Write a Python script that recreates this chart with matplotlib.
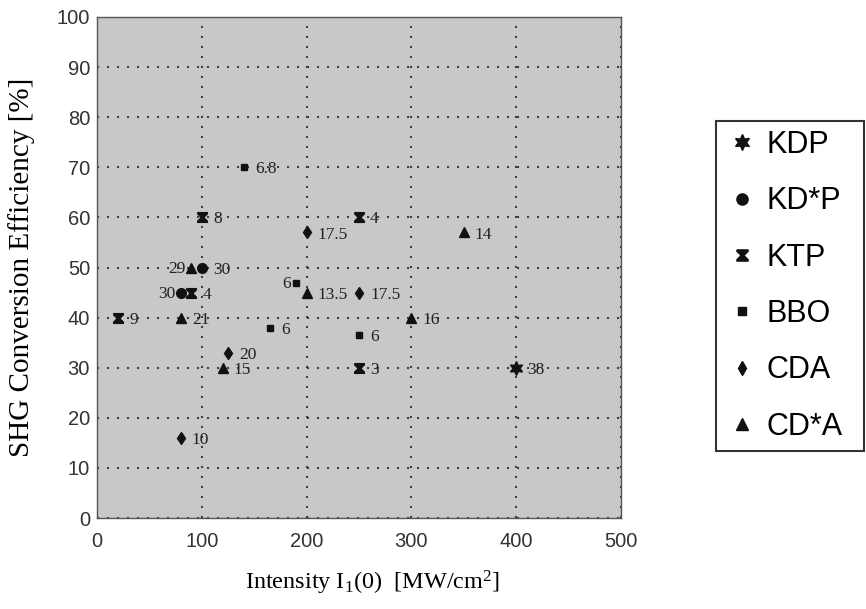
import matplotlib
matplotlib.use("Agg")
import matplotlib.pyplot as plt
from matplotlib.path import Path

# crystal data: intensity [MW/cm2], SHG efficiency [%], annotation
kdp_x = [400]
kdp_y = [30]
kdp_lbl = ["38"]

kdsp_x = [100, 80]
kdsp_y = [50, 45]
kdsp_lbl = ["30", "30"]

ktp_x = [100, 250, 90, 20, 250]
ktp_y = [60, 60, 45, 40, 30]
ktp_lbl = ["8", "4", "4", "9", "3"]

bbo_x = [140, 190, 165, 250]
bbo_y = [70, 47, 38, 36.5]
bbo_lbl = ["6.8", "6", "6", "6"]

cda_x = [200, 250, 125, 80]
cda_y = [57, 45, 33, 16]
cda_lbl = ["17.5", "17.5", "20", "10"]

cdsa_x = [350, 90, 200, 80, 300, 120]
cdsa_y = [57, 50, 45, 40, 40, 30]
cdsa_lbl = ["14", "29", "13.5", "21", "16", "15"]

names = ["KDP", "KD*P", "KTP", "BBO", "CDA", "CD*A"]

# labels drawn on the left side of the marker (series, index)
left_side = {("KD*P", 1), ("CD*A", 1), ("BBO", 1)}

# hourglass marker for KTP
hourglass = Path([(-1, 1), (1, 1), (1, 0.75), (0.25, 0), (1, -0.75), (1, -1),
                  (-1, -1), (-1, -0.75), (-0.25, 0), (-1, 0.75), (-1, 1)])

styles = {
    "KDP": dict(marker=(6, 1, 0), ms=10),
    "KD*P": dict(marker="o", ms=7),
    "KTP": dict(marker=hourglass, ms=7),
    "BBO": dict(marker="s", ms=5),
    "CDA": dict(marker="d", ms=6.5),
    "CD*A": dict(marker="^", ms=7),
}

series = {
    "KDP": (kdp_x, kdp_y, kdp_lbl),
    "KD*P": (kdsp_x, kdsp_y, kdsp_lbl),
    "KTP": (ktp_x, ktp_y, ktp_lbl),
    "BBO": (bbo_x, bbo_y, bbo_lbl),
    "CDA": (cda_x, cda_y, cda_lbl),
    "CD*A": (cdsa_x, cdsa_y, cdsa_lbl),
}

plt.rcParams["mathtext.fontset"] = "custom"
plt.rcParams["mathtext.rm"] = "Liberation Serif"
plt.rcParams["mathtext.it"] = "Liberation Serif:italic"

fig = plt.figure(figsize=(8.66, 6.09), dpi=100)
ax = fig.add_axes([97 / 866, 1 - 518 / 609, 524 / 866, 501 / 609])
ax.set_facecolor("#c8c8c8")

handles = []
for name in names:
    xs, ys, lbls = series[name]
    st = styles[name]
    h, = ax.plot(xs, ys, linestyle="none", marker=st["marker"], markersize=st["ms"],
                 color="#111111", mec="#111111", label=name, zorder=3)
    handles.append(h)
    for i, (x, y, t) in enumerate(zip(xs, ys, lbls)):
        if (name, i) in left_side:
            ax.annotate(t, (x, y), xytext=(-4, -1), textcoords="offset points",
                        ha="right", va="center", fontsize=12.5,
                        family="Liberation Serif", color="#222222", zorder=4)
        else:
            ax.annotate(t, (x, y), xytext=(8, -1.5), textcoords="offset points",
                        ha="left", va="center", fontsize=12.5,
                        family="Liberation Serif", color="#222222", zorder=4)

ax.set_xlim(0, 500)
ax.set_ylim(0, 100)
ax.set_xticks(range(0, 501, 100))
ax.set_yticks(range(0, 101, 10))
ax.grid(True, color="#404040", linestyle=(0, (1, 3.8)), linewidth=1.5, zorder=1)
ax.set_axisbelow(True)
ax.tick_params(length=0, labelsize=14.5, colors="#333333")
ax.tick_params(axis="x", pad=10)
ax.tick_params(axis="y", pad=5)
for lab in ax.get_xticklabels() + ax.get_yticklabels():
    lab.set_family("Liberation Sans")
for sp in ax.spines.values():
    sp.set_color("#555555")
    sp.set_linewidth(1.0)

ax.set_xlabel(r"Intensity I$_1$(0)  [MW/cm$^2$]", family="Liberation Serif",
              fontsize=17.5, va="center")
ax.xaxis.set_label_coords(0.525, -0.13)
ax.set_ylabel("SHG Conversion Efficiency [%]", family="Liberation Serif",
              fontsize=21, va="center")
ax.yaxis.set_label_coords(-0.145, 0.5)

leg_top = 1 - 121 / 609
leg = fig.legend(handles=handles, loc="upper left",
                 bbox_to_anchor=(716 / 866, leg_top - 0.1, 148 / 866, 0.1), mode="expand",
                 prop={"family": "Liberation Sans", "size": 22}, markerscale=1.15,
                 frameon=True, fancybox=False, borderpad=0.3, labelspacing=0.86,
                 handlelength=1.1, handletextpad=0.25, borderaxespad=0)
leg.get_frame().set_edgecolor("black")
leg.get_frame().set_linewidth(1.5)

fig.savefig("out.png", dpi=100)
